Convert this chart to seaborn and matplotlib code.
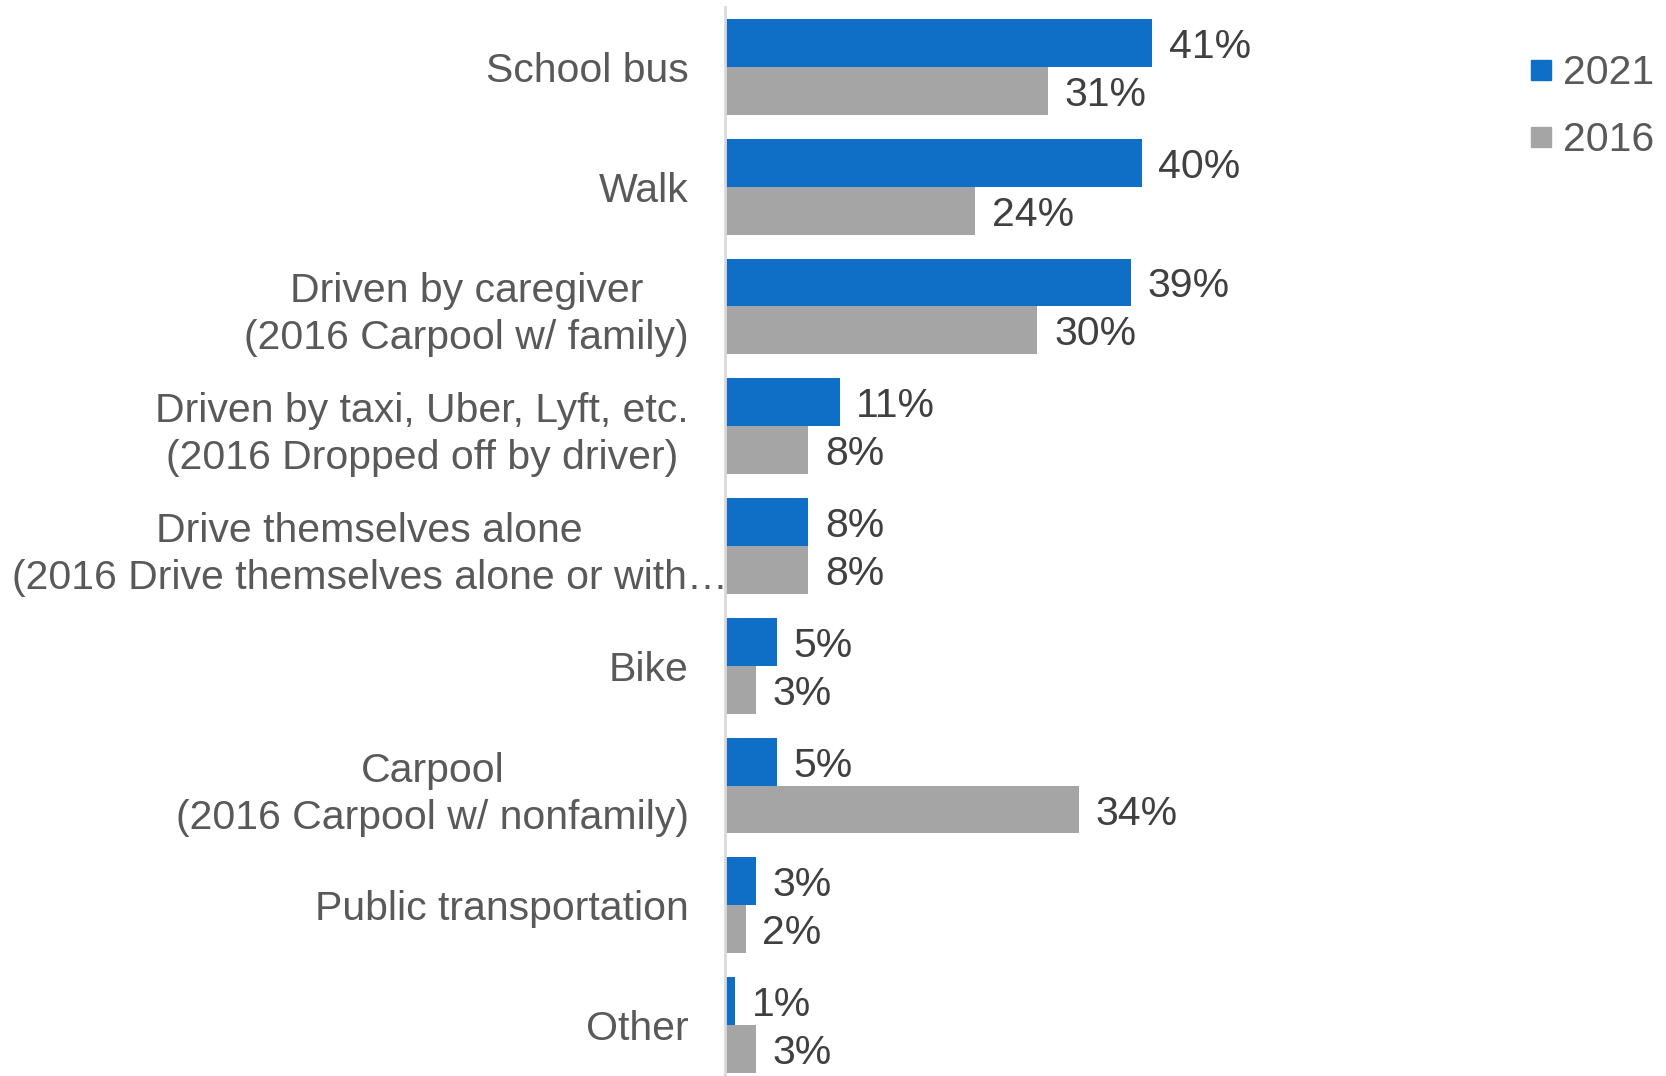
import pandas as pd
import seaborn as sns
import matplotlib.pyplot as plt
from matplotlib.lines import Line2D

# Data
modes = [
    'School bus',
    'Walk',
    'Driven by caregiver\n(2016 Carpool w/ family)',
    'Driven by taxi, Uber, Lyft, etc.\n(2016 Dropped off by driver)',
    'Drive themselves alone\n(2016 Drive themselves alone or with\u2026',
    'Bike',
    'Carpool\n(2016 Carpool w/ nonfamily)',
    'Public transportation',
    'Other',
]
share_2021 = [41, 40, 39, 11, 8, 5, 5, 3, 1]
share_2016 = [31, 24, 30, 8, 8, 3, 34, 2, 3]
years = ['2021', '2016']
colors = {'2021': '#0F6FC6', '2016': '#A5A5A5'}

df = pd.DataFrame({
    'Mode': modes * 2,
    'Year': ['2021'] * len(modes) + ['2016'] * len(modes),
    'Share': share_2021 + share_2016,
})

sns.set_style('white')
plt.rcParams['font.family'] = ['Liberation Sans', 'DejaVu Sans']
fs = 29.5

fig = plt.figure(figsize=(16.66, 10.76), dpi=100)
ax = fig.add_axes([725 / 1666, -0.0084, 0.50, 1.0019])

sns.barplot(data=df, y='Mode', x='Share', hue='Year', hue_order=years,
            palette=colors, orient='h', width=0.8, saturation=1,
            edgecolor='none', legend=False, ax=ax)

for cont in ax.containers:
    texts = ax.bar_label(cont, fmt='%d%%', padding=12, fontsize=fs, color='#404040')
    for t in texts:
        t.set_va('center_baseline')

ax.set_xlim(0, 80)
ax.set_ylim(8.5, -0.5)
ax.set_xlabel('')
ax.set_ylabel('')
ax.set_xticks([])
for s in ['top', 'right', 'bottom']:
    ax.spines[s].set_visible(False)
ax.spines['left'].set_color('#D9D9D9')
ax.spines['left'].set_linewidth(2)

ax.tick_params(axis='y', length=0, pad=26, labelsize=fs, labelcolor='#595959')
for lbl in ax.get_yticklabels():
    lbl.set_multialignment('center')
    lbl.set_linespacing(1.3)
ax.yaxis.get_major_ticks()[4].set_pad(-2)

handles = [Line2D([], [], marker='s', linestyle='none', markersize=15,
                  color=colors[y]) for y in years]
fig.legend(handles, years, loc='upper right', bbox_to_anchor=(1.003, 1 - 38 / 1076),
           frameon=False, fontsize=fs, labelcolor='#595959',
           handlelength=0.6, handletextpad=0.25, labelspacing=0.7,
           borderaxespad=0)

fig.savefig('out.png', dpi=100)
